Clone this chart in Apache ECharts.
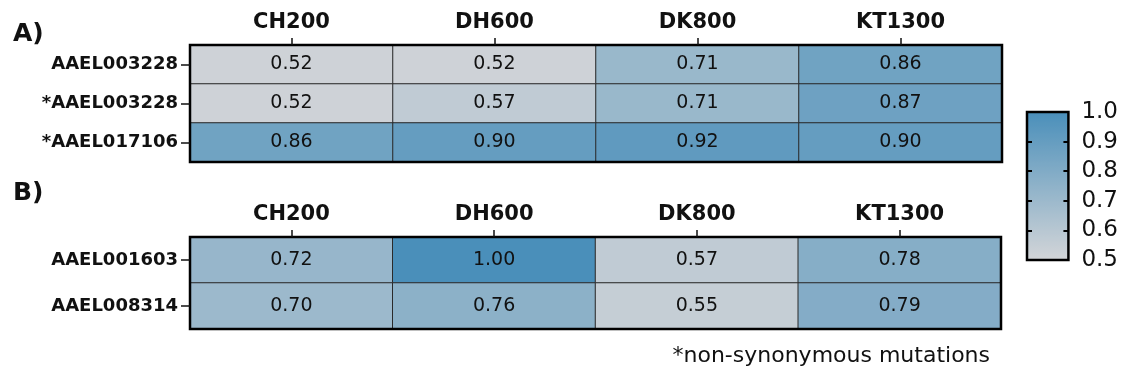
<!DOCTYPE html>
<html>
<head>
<meta charset="utf-8">
<script src="https://cdn.jsdelivr.net/npm/echarts@6/dist/echarts.min.js"></script>
<style>
  html, body { margin: 0; padding: 0; background: #fff; }
  #chart { width: 1121px; height: 374px; }
</style>
</head>
<body>
<div id="chart"></div>
<script>
// Strains (columns) shared by both panels
const strains = ['CH200', 'DH600', 'DK800', 'KT1300'];

// Panel A genes and values (row by row, one value per strain)
const genesA = ['AAEL003228', '*AAEL003228', '*AAEL017106'];
const valuesA = [
  [0.52, 0.52, 0.71, 0.86],
  [0.52, 0.57, 0.71, 0.87],
  [0.86, 0.90, 0.92, 0.90]
];

// Panel B genes and values
const genesB = ['AAEL001603', 'AAEL008314'];
const valuesB = [
  [0.72, 1.00, 0.57, 0.78],
  [0.70, 0.76, 0.55, 0.79]
];

// Colour scale range and its tick labels
const scaleMin = 0.5;
const scaleMax = 1.0;
const scaleStep = 0.1;

const FONT = 'DejaVu Sans';
const INK = '#111';

function toCells(values) {
  const cells = [];
  values.forEach((row, r) => row.forEach((v, c) => cells.push([c, r, v])));
  return cells;
}

function xAxisFor(gridIndex) {
  return {
    type: 'category', gridIndex, position: 'top', data: strains,
    axisLine: { show: false },
    axisTick: { show: true, alignWithLabel: true, length: 7, inside: false,
                lineStyle: { color: INK, width: 1.5 } },
    axisLabel: { color: INK, fontFamily: FONT, fontWeight: 'bold', fontSize: 21, margin: 12 },
    splitLine: { show: false }, splitArea: { show: false }, z: 12
  };
}

function yAxisFor(gridIndex, genes) {
  return {
    type: 'category', gridIndex, data: genes, inverse: true,
    axisLine: { show: false },
    axisTick: { show: true, alignWithLabel: true, length: 9,
                lineStyle: { color: INK, width: 1.5 } },
    axisLabel: { color: INK, fontFamily: FONT, fontWeight: 'bold', fontSize: 18, margin: 12 },
    splitLine: { show: false }, splitArea: { show: false }, z: 12
  };
}

function heatSeries(idx, values) {
  return {
    type: 'heatmap', xAxisIndex: idx, yAxisIndex: idx,
    data: toCells(values),
    itemStyle: { borderColor: '#2a2a2a', borderWidth: 1 },
    label: {
      show: true, color: INK, fontFamily: FONT, fontSize: 19,
      formatter: p => p.value[2].toFixed(2)
    },
    emphasis: { disabled: true }
  };
}

const frame = { show: true, borderColor: '#000', borderWidth: 2.5, backgroundColor: 'transparent', z: 10 };

const chart = echarts.init(document.getElementById('chart'), null, { renderer: 'canvas' });
chart.setOption({
  backgroundColor: '#fff',
  animation: false,
  title: [
    { text: 'A)', left: 8, top: 17, textStyle: { fontFamily: FONT, fontWeight: 'bold', fontSize: 25, color: INK } },
    { text: 'B)', left: 8, top: 176, textStyle: { fontFamily: FONT, fontWeight: 'bold', fontSize: 25, color: INK } },
    { text: '*non-synonymous mutations', right: 126, top: 340,
      textStyle: { fontFamily: FONT, fontWeight: 'normal', fontSize: 22, color: INK } }
  ],
  grid: [
    Object.assign({ left: 190, top: 45, width: 812, height: 117 }, frame),
    Object.assign({ left: 190, top: 237, width: 811, height: 92 }, frame),
    Object.assign({ left: 1027, top: 112, width: 42, height: 148 }, frame)
  ],
  xAxis: [
    xAxisFor(0),
    xAxisFor(1),
    { type: 'value', gridIndex: 2, show: false, min: 0, max: 1 }
  ],
  yAxis: [
    yAxisFor(0, genesA),
    yAxisFor(1, genesB),
    // colour bar: inner ticks on the left edge
    { type: 'value', gridIndex: 2, position: 'left', min: scaleMin, max: scaleMax, interval: scaleStep,
      axisLine: { show: false }, splitLine: { show: false },
      axisTick: { show: true, inside: true, length: 5, lineStyle: { color: '#000', width: 2 } },
      axisLabel: { show: false }, z: 12 },
    // colour bar: inner ticks and labels on the right edge
    { type: 'value', gridIndex: 2, position: 'right', min: scaleMin, max: scaleMax, interval: scaleStep,
      axisLine: { show: false }, splitLine: { show: false },
      axisTick: { show: true, inside: true, length: 5, lineStyle: { color: '#000', width: 2 } },
      axisLabel: { show: true, inside: false, margin: 13, color: INK, fontFamily: FONT, fontSize: 23,
                   formatter: v => v.toFixed(1) }, z: 12 }
  ],
  visualMap: {
    type: 'continuous', seriesIndex: [0, 1],
    min: scaleMin, max: scaleMax, calculable: false, realtime: false,
    orient: 'vertical', left: 1027, top: 112, padding: 0,
    itemWidth: 42, itemHeight: 148, text: null, showLabel: false,
    inRange: { color: ['#d3d5d8', '#4a8fba'] },
    hoverLink: false
  },
  series: [heatSeries(0, valuesA), heatSeries(1, valuesB)]
});
</script>
</body>
</html>
